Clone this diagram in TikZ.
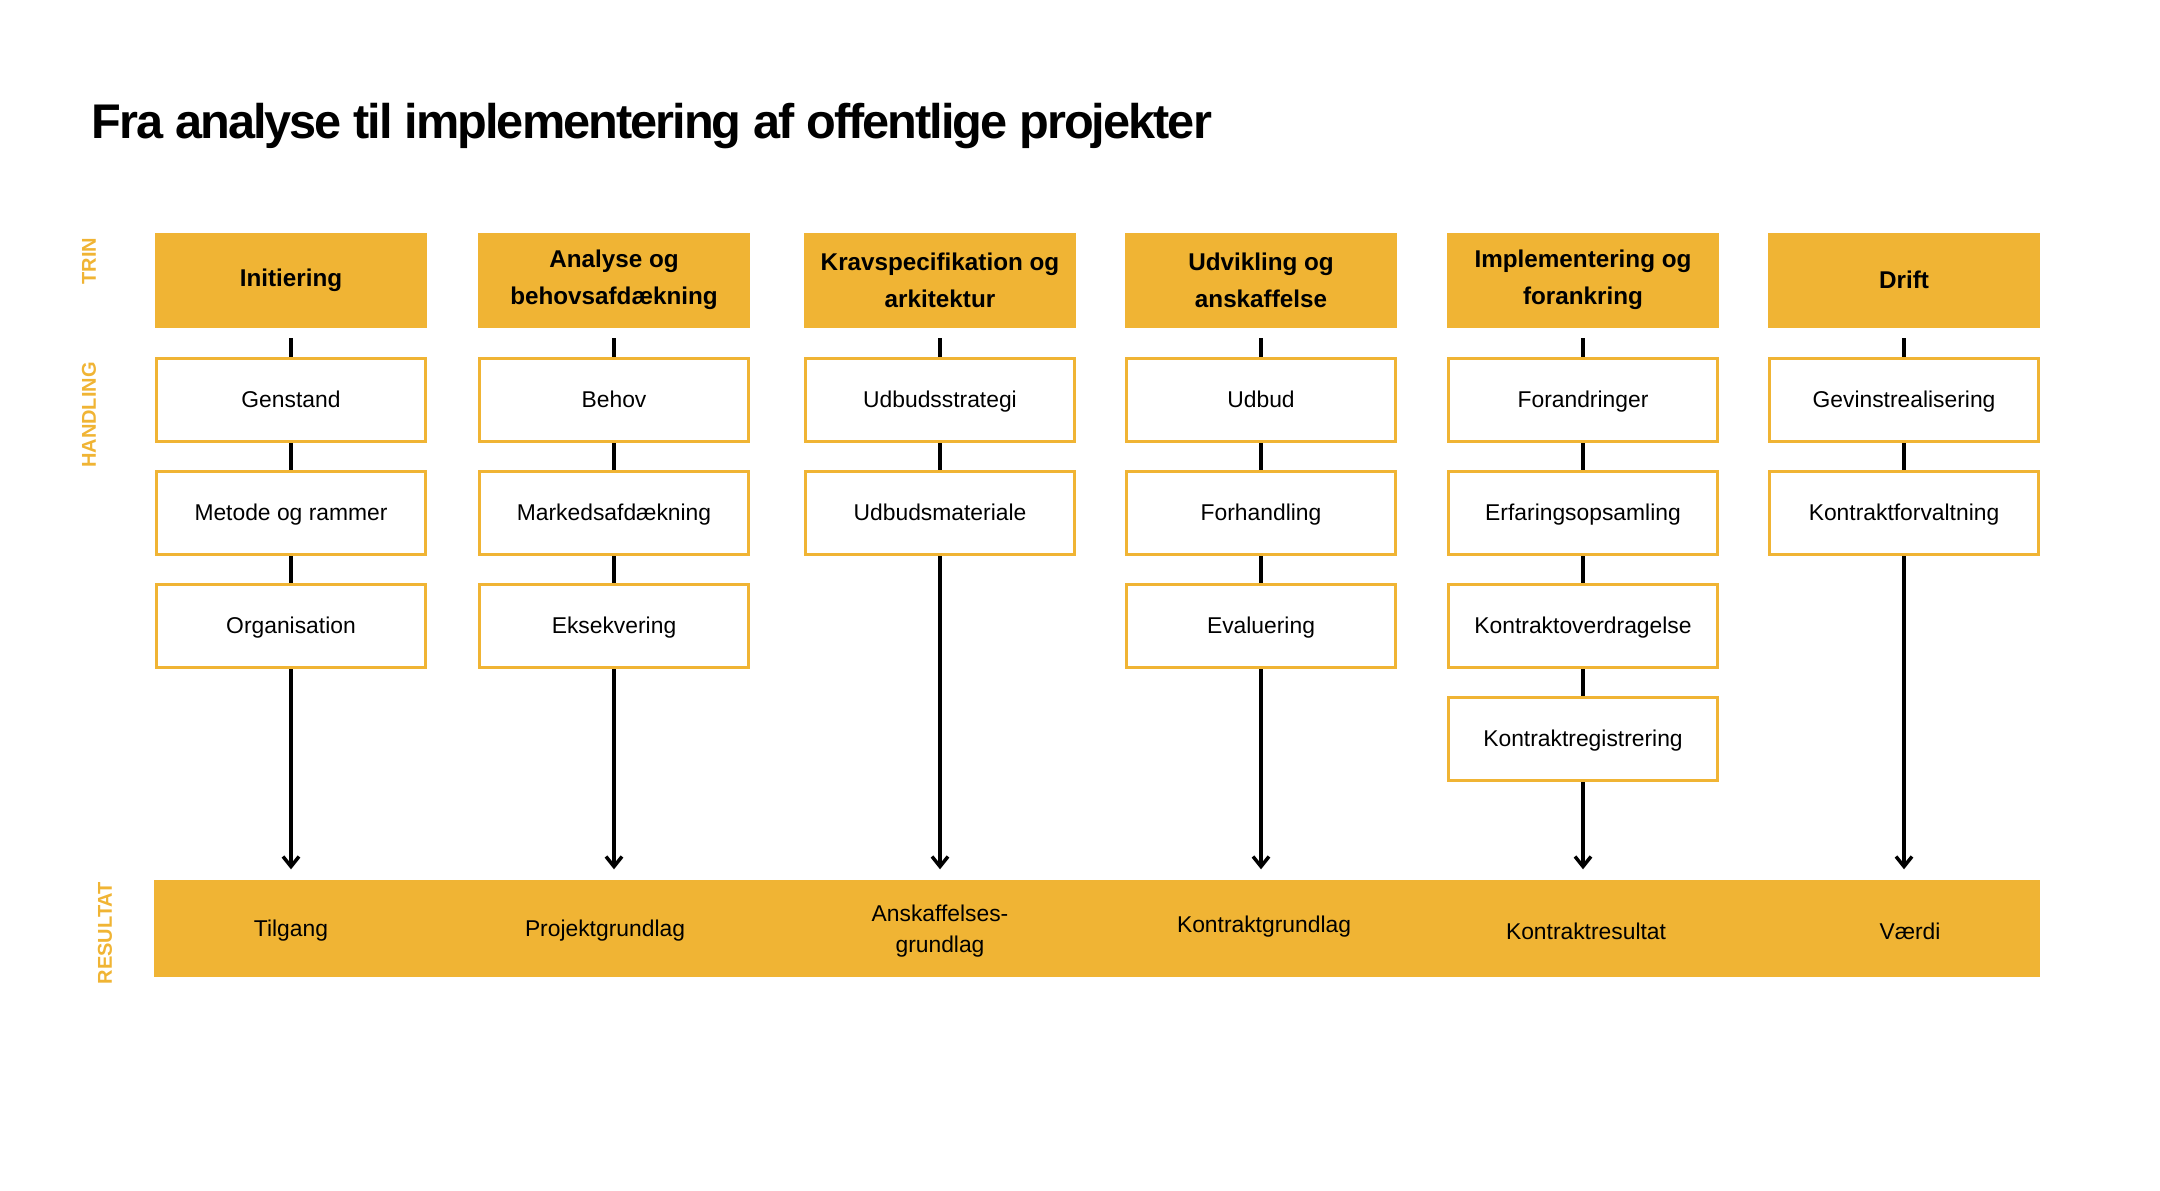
\documentclass[tikz,border=0pt]{standalone}
\usepackage{fontspec}
\setmainfont{Liberation Sans}
\newfontfamily\titleFont[LetterSpace=-4]{Liberation Sans}
\usetikzlibrary{arrows.meta,positioning}
\definecolor{trinGold}{RGB}{240,180,52}

\begin{document}
\begin{tikzpicture}[x=0.1mm,y=-0.1mm,
		trinHead/.style={fill=trinGold, minimum width=27.2mm, minimum height=9.5mm, inner sep=0pt, align=center, font=\bfseries\fontsize{6.9}{10.5}\selectfont},
		actBox/.style={draw=trinGold, line width=0.3mm, fill=white, minimum width=26.9mm, minimum height=8.3mm, inner sep=0pt, text height=1.45ex, text depth=0.6ex, font=\fontsize{6.5}{8.5}\selectfont},
		resText/.style={align=center, inner sep=0pt, font=\fontsize{6.5}{8.6}\selectfont},
		sideLabel/.style={rotate=90, text=trinGold, inner sep=0pt, font=\bfseries\fontsize{5.7}{7}\selectfont},
		link/.style={line width=0.35mm},
		resArrow/.style={line width=0.35mm, -{Straight Barb[length=1mm,width=1.6mm]}, shorten >=1mm}]
		\useasboundingbox (0,0) rectangle (2160,1190);

		% Title
		\node[anchor=base west, inner sep=0pt, font=\titleFont\bfseries\fontsize{13.85}{16}\selectfont] (title) at (91,138) {Fra analyse til implementering af offentlige projekter};

		% Row labels
		\node[sideLabel] (trin) at (89,261) {TRIN};
		\node[sideLabel] (handling) at (89,415) {HANDLING};
		\node[sideLabel] (resultat) at (105,933) {RESULTAT};

		% Trin
		\node[trinHead] (h1) at (291,280) {Initiering};
		\node[trinHead] (h2) at (614,280) {Analyse og\\behovsafdækning};
		\node[trinHead] (h3) at (940,280) {Kravspecifikation og\\arkitektur};
		\node[trinHead] (h4) at (1261,280) {Udvikling og\\anskaffelse};
		\node[trinHead] (h5) at (1583,280) {Implementering og\\forankring};
		\node[trinHead] (h6) at (1904,280) {Drift};

		% Handling
		\node[actBox] (a11) at (291,400) {Genstand};
		\node[actBox, below=2.7mm of a11] (a12) {Metode og rammer};
		\node[actBox, below=2.7mm of a12] (a13) {Organisation};

		\node[actBox] (a21) at (614,400) {Behov};
		\node[actBox, below=2.7mm of a21] (a22) {Markedsafdækning};
		\node[actBox, below=2.7mm of a22] (a23) {Eksekvering};

		\node[actBox] (a31) at (940,400) {Udbudsstrategi};
		\node[actBox, below=2.7mm of a31] (a32) {Udbudsmateriale};

		\node[actBox] (a41) at (1261,400) {Udbud};
		\node[actBox, below=2.7mm of a41] (a42) {Forhandling};
		\node[actBox, below=2.7mm of a42] (a43) {Evaluering};

		\node[actBox] (a51) at (1583,400) {Forandringer};
		\node[actBox, below=2.7mm of a51] (a52) {Erfaringsopsamling};
		\node[actBox, below=2.7mm of a52] (a53) {Kontraktoverdragelse};
		\node[actBox, below=2.7mm of a53] (a54) {Kontraktregistrering};

		\node[actBox] (a61) at (1904,400) {Gevinstrealisering};
		\node[actBox, below=2.7mm of a61] (a62) {Kontraktforvaltning};

		% Resultat
		\node[fill=trinGold, minimum width=188.6mm, minimum height=9.7mm, inner sep=0pt] (resbar) at (1097,928.5) {};
		\node[resText] (r1) at (291,931) {Tilgang};
		\node[resText] (r2) at (605,931) {Projektgrundlag};
		\node[resText] (r3) at (940,931) {Anskaffelses-\\grundlag};
		\node[resText] (r4) at (1264,927) {Kontraktgrundlag};
		\node[resText] (r5) at (1586,931) {Kontraktresultat};
		\node[resText] (r6) at (1910,931) {Værdi};

		% Connectors
		\foreach \c in {1,...,6}
			\draw[link, shorten <=1mm] (h\c) -- (a\c1);
		\foreach \a/\b in {a11/a12, a12/a13, a21/a22, a22/a23, a31/a32, a41/a42, a42/a43, a51/a52, a52/a53, a53/a54, a61/a62}
			\draw[link] (\a) -- (\b);
		\foreach \a in {a13, a23, a32, a43, a54, a62}
			\draw[resArrow] (\a) -- (\a |- resbar.north);
	\end{tikzpicture}
\end{document}
